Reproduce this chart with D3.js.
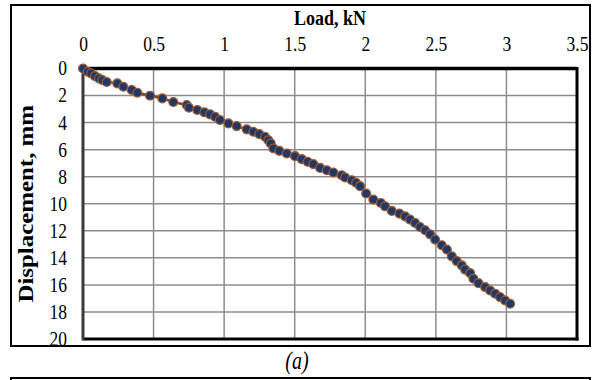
<!DOCTYPE html>
<html>
<head>
<meta charset="utf-8">
<script src="https://cdn.jsdelivr.net/npm/d3@7.9.0/dist/d3.min.js"></script>
<style>
  body { margin: 0; background: #fff; }
  svg text { font-family: "Liberation Serif", "Times New Roman", Tinos, "DejaVu Serif", serif !important; }
</style>
</head>
<body>
<svg id="chart" width="593" height="380"></svg>
<script>
// Load (kN) vs displacement (mm)
const load = [0, 0.033, 0.057, 0.085, 0.113, 0.137, 0.168, 0.243, 0.286, 0.345, 0.385, 0.475,
  0.562, 0.64, 0.735, 0.751, 0.81, 0.86, 0.90, 0.936, 0.97, 1.03, 1.089, 1.16, 1.207, 1.249,
  1.29, 1.313, 1.33, 1.349, 1.391, 1.444, 1.502, 1.55, 1.592, 1.632, 1.68, 1.727, 1.774,
  1.833, 1.857, 1.904, 1.935, 1.963, 2.006, 2.057, 2.11, 2.14, 2.188, 2.242, 2.282, 2.317,
  2.353, 2.388, 2.424, 2.459, 2.495, 2.542, 2.578, 2.613, 2.648, 2.684, 2.707, 2.743, 2.766,
  2.802, 2.849, 2.884, 2.92, 2.955, 2.991, 3.026];
const displacement = [0, 0.24, 0.36, 0.56, 0.73, 0.85, 1.0, 1.1, 1.35, 1.59, 1.79, 2.01,
  2.21, 2.48, 2.7, 2.9, 3.07, 3.24, 3.39, 3.57, 3.81, 4.06, 4.26, 4.5, 4.68, 4.85,
  5.05, 5.3, 5.54, 5.91, 6.09, 6.28, 6.48, 6.7, 6.9, 7.07, 7.35, 7.52, 7.69,
  7.89, 8.06, 8.26, 8.45, 8.7, 9.24, 9.69, 9.94, 10.19, 10.53, 10.73, 10.93, 11.17,
  11.42, 11.72, 11.96, 12.26, 12.65, 13.07, 13.39, 13.89, 14.24, 14.56, 14.87, 15.13, 15.54,
  15.87, 16.16, 16.41, 16.65, 16.9, 17.15, 17.39];

const xTicks = [0, 0.5, 1, 1.5, 2, 2.5, 3, 3.5];
const yTicks = [0, 2, 4, 6, 8, 10, 12, 14, 16, 18, 20];

const data = load.map((l, i) => ({ x: l, y: displacement[i] }));

const svg = d3.select("#chart");
const stretch = 1.22; // the source image is a little taller than wide

const x = d3.scaleLinear().domain([0, 3.5]).range([83, 577]);
const y = d3.scaleLinear().domain([0, 20]).range([68.5, 339]);

// outer frame
svg.append("rect")
  .attr("x", 11).attr("y", 5).attr("width", 579).attr("height", 341)
  .attr("fill", "none").attr("stroke", "#000").attr("stroke-width", 2);

// next panel frame (cut off)
svg.append("rect")
  .attr("x", 11).attr("y", 378).attr("width", 579).attr("height", 40)
  .attr("fill", "none").attr("stroke", "#000").attr("stroke-width", 2);

// gridlines
svg.append("g")
  .selectAll("line")
  .data(xTicks.slice(1, -1))
  .join("line")
  .attr("x1", d => x(d)).attr("x2", d => x(d))
  .attr("y1", y(0)).attr("y2", y(20))
  .attr("stroke", "#8c8c8c").attr("stroke-width", 1.5);

svg.append("g")
  .selectAll("line")
  .data(yTicks.slice(1, -1))
  .join("line")
  .attr("x1", x(0)).attr("x2", x(3.5))
  .attr("y1", d => y(d)).attr("y2", d => y(d))
  .attr("stroke", "#8c8c8c").attr("stroke-width", 1.5);

// plot border
svg.append("line").attr("x1", x(0)).attr("x2", x(3.5)).attr("y1", y(0)).attr("y2", y(0))
  .attr("stroke", "#000").attr("stroke-width", 3.5);
svg.append("line").attr("x1", x(0)).attr("x2", x(3.5) + 1.5).attr("y1", y(20)).attr("y2", y(20))
  .attr("stroke", "#000").attr("stroke-width", 3);
svg.append("line").attr("x1", x(3.5)).attr("x2", x(3.5)).attr("y1", y(0) - 1.5).attr("y2", y(20) + 1.5)
  .attr("stroke", "#000").attr("stroke-width", 3);
svg.append("line").attr("x1", x(0)).attr("x2", x(0)).attr("y1", y(0) - 1.5).attr("y2", y(20) + 1.5)
  .attr("stroke", "#3a3a3a").attr("stroke-width", 3);

// axes
const xAxis = svg.append("g")
  .attr("transform", `translate(0,${y(0) - 18})`)
  .call(d3.axisTop(x).tickValues(xTicks).tickSize(0).tickPadding(0).tickFormat(d3.format("")));
xAxis.select(".domain").remove();
xAxis.selectAll("text").attr("font-size", 17.5).attr("fill", "#000")
  .attr("transform", `scale(1,${stretch})`);

const yAxis = svg.append("g")
  .attr("transform", `translate(${x(0) - 14},0)`)
  .call(d3.axisLeft(y).tickValues(yTicks).tickSize(0).tickPadding(2));
yAxis.select(".domain").remove();
yAxis.selectAll("text").attr("font-size", 17.5).attr("fill", "#000")
  .attr("transform", `scale(1,${stretch})`).attr("y", 0).attr("dy", "0.3em");

// series
svg.append("path")
  .datum(data)
  .attr("fill", "none")
  .attr("stroke", "#843c0c")
  .attr("stroke-width", 2.5)
  .attr("d", d3.line().x(d => x(d.x)).y(d => y(d.y)));

svg.append("g")
  .selectAll("circle")
  .data(data)
  .join("circle")
  .attr("cx", d => x(d.x))
  .attr("cy", d => y(d.y))
  .attr("r", 4.4)
  .attr("fill", "#203864")
  .attr("stroke", "#9c5a36")
  .attr("stroke-width", 1.3);

// titles
svg.append("text")
  .attr("transform", `translate(330,25) scale(1,${stretch})`)
  .attr("text-anchor", "middle")
  .attr("font-size", 18).attr("font-weight", "bold")
  .text("Load, kN");

svg.append("text")
  .attr("transform", `translate(33,${(y(0) + y(20)) / 2}) rotate(-90) scale(${stretch * 1.02},1)`)
  .attr("text-anchor", "middle")
  .attr("font-size", 20).attr("font-weight", "bold")
  .text("Displacement, mm");

svg.append("text")
  .attr("transform", `translate(297,369) scale(1,${stretch})`)
  .attr("text-anchor", "middle")
  .attr("font-size", 20).attr("font-style", "italic")
  .text("(a)");
</script>
</body>
</html>
